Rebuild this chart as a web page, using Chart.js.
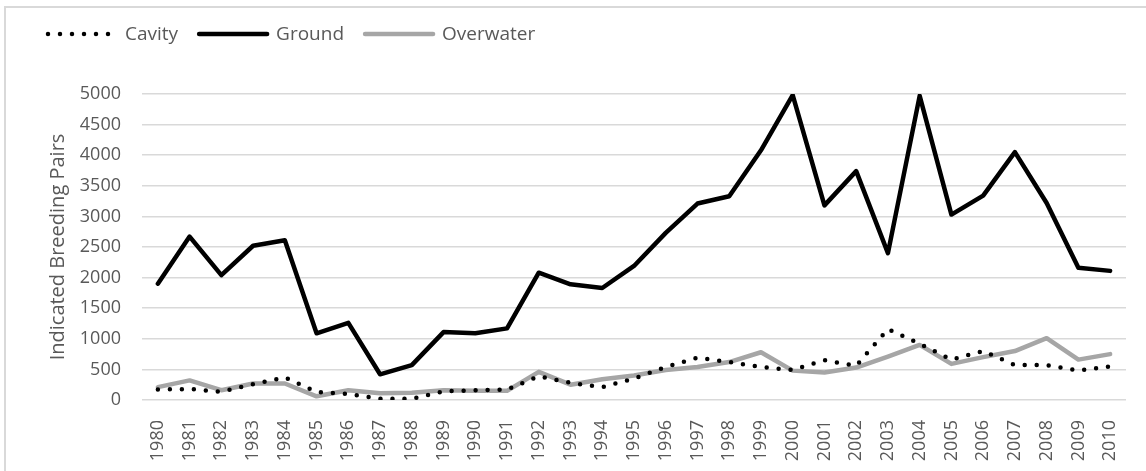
<!DOCTYPE html>
<html>
<head>
<meta charset="utf-8">
<style>
    html, body { margin: 0; padding: 0; background: #fff; }
    #wrap { position: relative; width: 1146px; height: 471px; overflow: hidden; }
    #frame { position: absolute; left: 4px; top: 6px; width: 1200px; height: 500px; border: 2px solid #d9d9d9; box-sizing: border-box; }
    #chartBox { position: absolute; left: 0; top: 0; width: 1146px; height: 471px; }
</style>
</head>
<body>
<div id="wrap">
    <div id="frame"></div>
    <div id="chartBox"><canvas id="pairsChart" width="1146" height="471"></canvas></div>
</div>
<script src="https://cdn.jsdelivr.net/npm/chart.js"></script>
<script type="text/javascript">
    var years = ['1980', '1981', '1982', '1983', '1984', '1985', '1986', '1987', '1988', '1989',
        '1990', '1991', '1992', '1993', '1994', '1995', '1996', '1997', '1998', '1999',
        '2000', '2001', '2002', '2003', '2004', '2005', '2006', '2007', '2008', '2009', '2010'];

    var cavity = [170, 180, 135, 260, 370, 130, 100, 20, 20, 140,
        160, 170, 390, 280, 210, 350, 540, 690, 620, 540,
        490, 650, 560, 1160, 920, 660, 800, 570, 570, 480, 550];

    var ground = [1900, 2670, 2040, 2520, 2610, 1090, 1260, 420, 570, 1110,
        1090, 1170, 2080, 1890, 1830, 2190, 2730, 3210, 3330, 4080,
        4980, 3180, 3740, 2400, 4970, 3030, 3340, 4050, 3220, 2160, 2110];

    var overwater = [210, 320, 160, 270, 270, 60, 160, 110, 120, 160,
        150, 150, 460, 250, 340, 400, 490, 540, 620, 780,
        480, 450, 530, 710, 900, 590, 700, 800, 1010, 660, 750];

    var yTicks = [0, 500, 1000, 1500, 2000, 2500, 3000, 3500, 4000, 4500, 5000];

    var textColor = '#595959';
    var gridColor = '#d9d9d9';
    var fontName = "'Open Sans', 'Noto Sans', sans-serif";

    function lineSet(label, values, color, dash) {
        return {
            label: label,
            data: values,
            borderColor: color,
            backgroundColor: color,
            borderWidth: 4.5,
            borderDash: dash,
            borderCapStyle: 'round',
            borderJoinStyle: 'round',
            pointRadius: 0,
            pointHoverRadius: 0,
            tension: 0,
            fill: false
        };
    }

    // legend drawn by hand so the dotted series keeps its dots
    var lineLegend = {
        id: 'lineLegend',
        afterDraw: function (chart) {
            var c = chart.ctx;
            var x = 48;
            var y = 34;
            c.save();
            c.font = '19px ' + fontName;
            c.textBaseline = 'middle';
            chart.data.datasets.forEach(function (ds) {
                c.beginPath();
                c.lineWidth = ds.borderWidth;
                c.strokeStyle = ds.borderColor;
                c.lineCap = 'round';
                c.setLineDash(ds.borderDash);
                c.moveTo(x, y);
                c.lineTo(x + 68, y);
                c.stroke();
                c.setLineDash([]);
                c.fillStyle = textColor;
                c.fillText(ds.label, x + 77, y + 1);
                x = x + 77 + c.measureText(ds.label).width + 21;
            });
            c.restore();
        }
    };

    var ctx = document.getElementById('pairsChart').getContext('2d');
    var pairsChart = new Chart(ctx, {
        type: 'line',
        data: {
            labels: years,
            datasets: [
                lineSet('Cavity', cavity, '#000000', [0, 12]),
                lineSet('Ground', ground, '#000000', []),
                lineSet('Overwater', overwater, '#a6a6a6', [])
            ]
        },
        plugins: [lineLegend],
        options: {
            responsive: false,
            animation: false,
            devicePixelRatio: 1,
            layout: {
                padding: { left: 40, right: 20, top: 94, bottom: 0 }
            },
            plugins: {
                tooltip: { enabled: false },
                legend: { display: false }
            },
            scales: {
                x: {
                    type: 'category',
                    offset: true,
                    // labels are clipped to the axis box, so keep it down to the canvas edge
                    afterFit: function (scale) { scale.height = 71; },
                    grid: { display: false },
                    border: { display: false },
                    ticks: {
                        minRotation: 90,
                        maxRotation: 90,
                        autoSkip: false,
                        padding: 12,
                        color: textColor,
                        font: { family: fontName, size: 18 }
                    }
                },
                y: {
                    min: 0,
                    max: 5000,
                    afterFit: function (scale) { scale.width = 102; },
                    afterBuildTicks: function (scale) {
                        scale.ticks = yTicks.map(function (v) { return { value: v }; });
                    },
                    grid: { color: gridColor, lineWidth: 1.5, drawTicks: false },
                    border: { display: false },
                    ticks: {
                        padding: 21,
                        color: textColor,
                        font: { family: fontName, size: 18 },
                        callback: function (value) { return String(value); }
                    },
                    title: {
                        display: true,
                        text: 'Indicated Breeding Pairs',
                        color: textColor,
                        font: { family: fontName, size: 20 },
                        padding: { top: 6, bottom: 14 }
                    }
                }
            }
        }
    });
</script>
</body>
</html>
